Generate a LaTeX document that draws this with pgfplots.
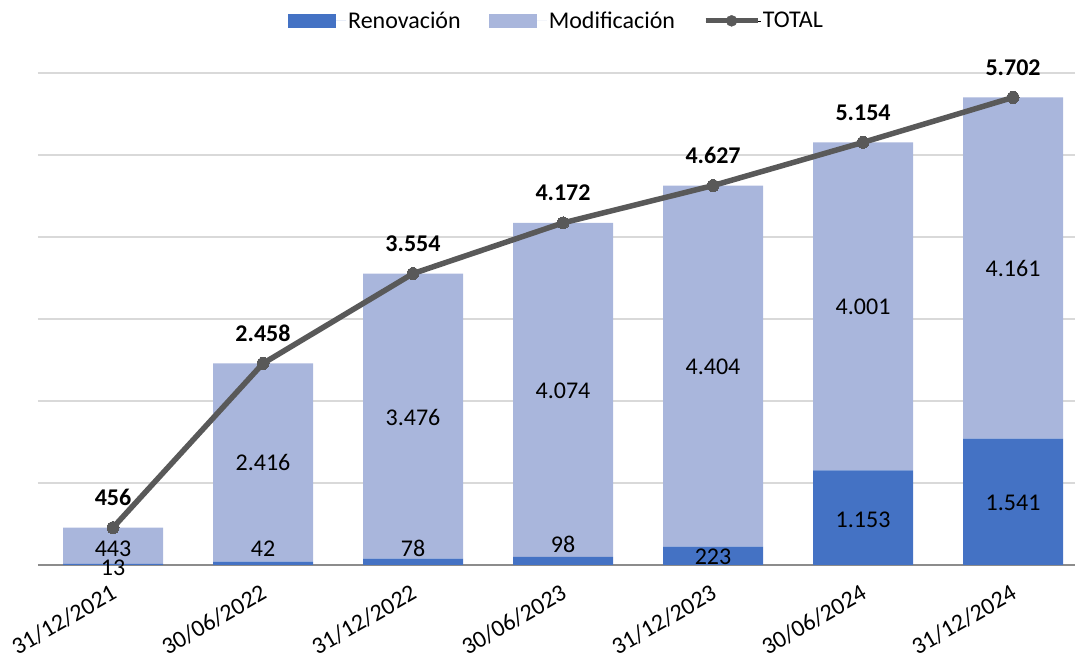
\documentclass[border=0pt]{standalone}
\usepackage{fontspec}
\setmainfont{Carlito}
\usepackage{pgfplots}
\usepackage{pgfplotstable}
\pgfplotsset{compat=1.18}
\definecolor{renov}{HTML}{4472C4}
\definecolor{modif}{HTML}{A9B6DC}
\definecolor{tot}{HTML}{595959}
\definecolor{gridc}{HTML}{D9D9D9}
\definecolor{axc}{HTML}{8C8C8C}

\pgfplotstableread{
x ren mod total tlbl
0 13 443 456 456
1 42 2416 2458 2.458
2 78 3476 3554 3.554
3 98 4074 4172 4.172
4 223 4404 4627 4.627
5 1153 4001 5154 5.154
6 1541 4161 5702 5.702
}\data

\pgfplotstableread{
x y lbl
0 -37 13
1 195 42
2 207 78
3 256 98
4 100 223
5 549 1.153
6 756 1.541
0 200 443
1 1244 2.416
2 1793 3.476
3 2122 4.074
4 2415 4.404
5 3146 4.001
6 3610 4.161
}\labels

\newcommand{\lblfont}{\fontsize{24}{28}\selectfont}

\pgfplotsset{
  common/.style={
    width=1037pt, height=492pt, scale only axis,
    at={(38pt,93pt)}, anchor=south west,
    xmin=-0.5, xmax=6.413, ymin=0, ymax=6000,
    clip=false,
  }
}

\begin{document}
\begin{tikzpicture}
\useasboundingbox (0,0) rectangle (1077pt,658pt);
\begin{axis}[
  common,
  ybar stacked, bar width=100pt,
  ytick={0,1000,...,6000}, yticklabels={},
  ymajorgrids, grid style={gridc, line width=1.5pt},
  axis lines*=left,
  y axis line style={draw=none},
  x axis line style={draw=axc, line width=1.5pt},
  major tick length=0pt,
  xtick={0,...,6},
  xticklabels={31/12/2021,30/06/2022,31/12/2022,30/06/2023,31/12/2023,30/06/2024,31/12/2024},
  xticklabel style={rotate=30, anchor=north east, font=\lblfont, text=black, inner sep=0pt, xshift=-12pt, yshift=-14pt},
  legend style={at={(0.5,1.106)}, anchor=center, legend columns=3, draw=none, fill=none,
    font=\lblfont, /tikz/every even column/.append style={column sep=26pt}},
  legend cell align=left,
]
\addplot[fill=renov, draw=none,
  legend image code/.code={\path (0pt,0pt) -- (54pt,0pt); \fill[renov] (-4pt,-7pt) rectangle (44pt,7pt);}]
  table[x=x, y=ren] {\data};
\addlegendentry{Renovación}
\addplot[fill=modif, draw=none,
  legend image code/.code={\path (0pt,0pt) -- (54pt,0pt); \fill[modif] (-4pt,-7pt) rectangle (44pt,7pt);}]
  table[x=x, y=mod] {\data};
\addlegendentry{Modificación}
\addlegendimage{legend image code/.code={\path (0pt,0pt) -- (55pt,0pt); \draw[tot, line width=5pt] (0pt,0pt) -- (52pt,0pt); \fill[tot] (26pt,0pt) circle (5.5pt);}}
\addlegendentry{TOTAL}
\end{axis}

\begin{axis}[common, hide axis]
\addplot[draw=none, mark=none, nodes near coords, point meta=explicit symbolic,
  every node near coord/.append style={anchor=center, font=\lblfont, text=black, inner sep=0pt}]
  table[x=x, y=y, meta=lbl] {\labels};
\addplot[tot, line width=5.5pt, mark=*, mark size=6pt, mark options={fill=tot, draw=tot, line width=0pt},
  nodes near coords, point meta=explicit symbolic,
  every node near coord/.append style={anchor=center, yshift=30pt, font=\bfseries\lblfont, text=black}]
  table[x=x, y=total, meta=tlbl] {\data};
\end{axis}
\end{tikzpicture}
\end{document}
